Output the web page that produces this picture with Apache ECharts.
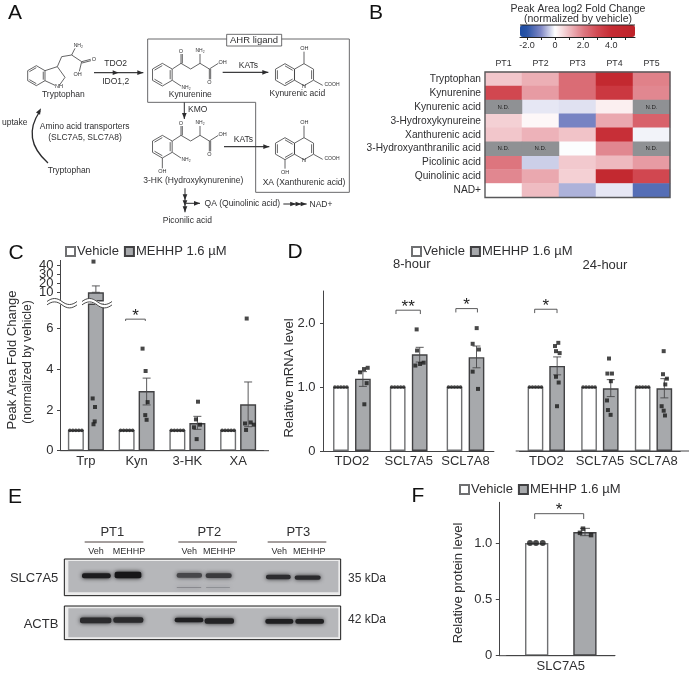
<!DOCTYPE html>
<html><head><meta charset="utf-8">
<style>html,body{margin:0;padding:0;background:#fff}#c{width:690px;height:675px}</style>
<script src="https://cdn.jsdelivr.net/npm/echarts@6/dist/echarts.min.js"></script>
</head><body><div id="c"></div>
<script>
// ---------- Shared names ----------
const VEH = 'Vehicle', MEH = 'MEHHP 1.6 µM';

// ---------- Panel B data ----------
const heatCols = ['PT1','PT2','PT3','PT4','PT5'];
const heatRows = ['Tryptophan','Kynurenine','Kynurenic acid','3-Hydroxykynureine','Xanthurenic acid','3-Hydroxyanthranilic acid','Picolinic acid','Quinolinic acid','NAD+'];
const ND = null;
const heatValues = [
  [0.85,1.2,2.3,4.6,1.9],
  [3.1,1.5,2.3,3.6,1.8],
  [ND,-0.2,-0.25,0.25,ND],
  [0.7,0.12,-1.1,1.3,2.5],
  [0.85,1.15,0.9,3.9,-0.1],
  [ND,ND,-0.02,1.8,ND],
  [2.1,-0.4,0.8,1.05,1.5],
  [1.8,1.3,0.7,4.6,3.1],
  [0,1,-0.65,-0.2,-1.5]
];
const scaleValues = [-2.5,-2,-1,0,1,2,3,4,5.7];
const scaleColors = ['#1d4ca2','#2a54a6','#8088c6','#ffffff','#efbcc2','#de7a83','#d24a53','#c62c34','#bd2329'];
const barTicks = [-2,-1,0,1,2,3,4,5];
const barLabels = [-2,0,2,4];

// ---------- Panel C data ----------
const cCats = ['Trp','Kyn','3-HK','XA'];
const cVehicle = [1,1,1,1];
const cMehhp = [10,2.93,1.36,2.28];
const cErrLow = [10,2.25,1.05,1.18];
const cErrHigh = [17,3.57,1.69,3.38];
const cPoints = [
  [0.650,43.7],[0.634,2.57],[0.680,2.15],[0.674,1.44],[0.650,1.3],
  [1.617,5.02],[1.677,3.92],[1.717,2.39],[1.670,1.75],[1.697,1.52],
  [2.709,2.41],[2.669,1.54],[2.749,1.28],[2.630,1.15],[2.683,0.57],
  [3.669,6.5],[3.636,1.34],[3.748,1.39],[3.808,1.28],[3.656,1.02]
];
const cBrackets = [[1.283,1.671,6.47,0.09,1]];
const cLowerMax = 7.2;
const cLowerTicks = [0,2,4,6];
const cUpperTicks = [10,20,30,40];

// ---------- Panel D data ----------
const dCats = ['TDO2','SCL7A5','SCL7A8'];
const d8Vehicle = [1,1,1];
const d8Mehhp = [1.13,1.51,1.466];
const d8ErrLow = [1.01,1.39,1.30];
const d8ErrHigh = [1.24,1.62,1.64];
const d8Points = [
  [0.643,1.23],[0.713,1.28],[0.778,1.30],[0.760,1.06],[0.719,0.73],
  [1.640,1.90],[1.647,1.57],[1.617,1.335],[1.700,1.36],[1.763,1.38],
  [2.697,1.92],[2.626,1.675],[2.737,1.586],[2.626,1.24],[2.720,0.97]
];
const d8Brackets = [[1.276,1.705,2.2,0.06,2],[2.33,2.71,2.225,0.06,1]];
const d24Vehicle = [1,1,1];
const d24Mehhp = [1.33,0.98,0.98];
const d24ErrLow = [1.19,0.85,0.83];
const d24ErrHigh = [1.47,1.115,1.13];
const d24Points = [
  [0.662,1.64],[0.724,1.69],[0.681,1.56],[0.749,1.53],[0.681,1.16],[0.731,1.07],[0.700,0.70],
  [1.670,1.445],[1.640,1.21],[1.725,1.21],[1.705,1.09],[1.633,0.79],[1.650,0.64],[1.700,0.565],
  [2.690,1.56],[2.677,1.20],[2.750,1.13],[2.720,1.04],[2.652,0.70],[2.690,0.63],[2.714,0.555]
];
const d24Brackets = [[0.283,0.70,2.215,0.06,1]];
const dTicks = [0,1,2];

// ---------- Panel F data ----------
const fCats = ['SLC7A5'];
const fVehicle = [1];
const fMehhp = [1.097];
const fErrLow = [1.065];
const fErrHigh = [1.13];
const fVehicleDots = [[0.216,1],[0.271,1],[0.333,1]];
const fPoints = [[0.705,1.127],[0.677,1.09],[0.779,1.07]];
const fBrackets = [[0.259,0.711,1.26,0.047,1]];
const fTicks = [0,0.5,1];

// ---------- Panel E blot bands ----------
const blotBands = [
  [246,332,287,15,'#1c1c1e'],[344,424,285,19,'#161618'],
  [530,606,286,14,'#47474a'],[617,695,287,14,'#3a3a3d'],
  [798,872,291,13,'#2c2c2f'],[884,962,293,13,'#2a2a2d'],
  [530,604,322,2,'#7d7e82'],[618,690,322,2,'#84858a'],
  [240,334,421,17,'#2b2b2d'],[340,430,420,17,'#2a2a2c'],
  [524,610,420,14,'#1f1f21'],[614,702,423,17,'#232325'],
  [796,880,424,14,'#1f1f21'],[886,972,424,14,'#202022']
];

// ---------- Style ----------
const FONT = '"Liberation Sans", Arial, sans-serif';
const INK = '#2f2f31';
const AXIS = '#444446';
const Z = 100;

// ---------- Colour ramp ----------
function hex2(c){return [1,3,5].map(i=>parseInt(c.substr(i,2),16));}
function rampColor(v){
  let i=0; while(i<scaleValues.length-2 && v>scaleValues[i+1]) i++;
  const t=Math.max(0,Math.min(1,(v-scaleValues[i])/(scaleValues[i+1]-scaleValues[i])));
  const a=hex2(scaleColors[i]),b=hex2(scaleColors[i+1]);
  return 'rgb('+a.map((x,k)=>Math.round(x+(b[k]-x)*t)).join(',')+')';
}
const ramp=[]; for(let k=0;k<=82;k++) ramp.push(rampColor(-2.5+k*0.1));

// ---------- Graphic helpers ----------
const T=(text,x,y,size,o={})=>({type:'text',z:Z,x,y,rotation:o.rot||0,silent:true,style:{text,fontSize:size,fontFamily:FONT,fill:o.fill||INK,align:o.align||'center',verticalAlign:'middle'}});
const L=(x1,y1,x2,y2,w=1,c=AXIS)=>({type:'line',z:Z,silent:true,shape:{x1,y1,x2,y2},style:{stroke:c,lineWidth:w}});
const A=v=>v/3;
const aL=(x1,y1,x2,y2,w=0.8)=>L(A(x1),A(y1),A(x2),A(y2),w,'#3d3d3f');
const aT=(s,x,y,size=8.5,o={})=>T(s,A(x),A(y),size,o);
const curve=(x1,y1,cx1,cy1,cx2,cy2,x2,y2,c,w)=>({type:'bezierCurve',z:Z,silent:true,shape:{x1,y1,x2,y2,cpx1:cx1,cpy1:cy1,cpx2:cx2,cpy2:cy2},style:{stroke:c,lineWidth:w,fill:'none'}});
function ring(cx,cy,r,edges){
  const pts=[];for(let i=0;i<6;i++){const a=(-90+60*i)*Math.PI/180;pts.push([cx+r*Math.cos(a),cy+r*Math.sin(a)]);}
  const out=[];
  for(let i=0;i<6;i++){const p=pts[i],q=pts[(i+1)%6];out.push(aL(p[0],p[1],q[0],q[1]));
    if(edges.includes(i)){const s=0.8,m=[p,q].map(u=>[cx+(u[0]-cx)*s,cy+(u[1]-cy)*s]);out.push(aL(m[0][0],m[0][1],m[1][0],m[1][1]));}}
  return out;
}
function dbl(x1,y1,x2,y2,dx,dy){return [aL(x1,y1,x2,y2),aL(x1+dx,y1+dy,x2+dx,y2+dy)];}
function head(x,y,ang,len=18,wid=14){
  const c=Math.cos(ang),s=Math.sin(ang),bx=x-len*c,by=y-len*s;
  return {type:'polygon',z:Z,silent:true,shape:{points:[[x,y],[bx-wid/2*s,by+wid/2*c],[bx+wid/2*s,by-wid/2*c]].map(p=>[A(p[0]),A(p[1])])},style:{fill:'#2b2b2d'}};
}
function arrow(x1,y1,x2,y2,fracs=[1]){
  const ang=Math.atan2(y2-y1,x2-x1);
  return [aL(x1,y1,x2,y2,1.1)].concat(fracs.map(f=>head(x1+(x2-x1)*f,y1+(y2-y1)*f,ang)));
}
function kynBackbone(oy){
  return [
    ...ring(487,224+oy,34,[1,3,5]),
    aL(517,207+oy,543,190+oy),...dbl(543,190+oy,543,162+oy,4,0),aL(543,190+oy,572,207+oy),aL(572,207+oy,600,190+oy),
    aL(600,190+oy,600,162+oy),aL(600,190+oy,628,207+oy),...dbl(628,207+oy,628,238+oy,4,0),aL(628,207+oy,655,190+oy),aL(517,241+oy,543,258+oy),
    aT('O',543,153+oy,5.5),aT('NH₂',600,153+oy,5),aT('OH',668,187+oy,5.5),aT('O',628,246+oy,5.5),aT('NH₂',558,262+oy,5)
  ];
}
function quinoline(oy){
  return [
    ...ring(855,224+oy,33,[0,2,4]),...ring(912,224+oy,33,[1]),
    aL(912,191+oy,912,155+oy),aL(941,241+oy,968,256+oy),
    aT('OH',913,145+oy,5.5),aT('COOH',996,255+oy,5),aT('N',912,258+oy,5.5)
  ];
}
const panelA=[
  ...ring(109,227,30,[1,3,5]),
  aL(135,212,172,200),aL(172,200,195,232),aL(195,232,178,256),aL(135,242,165,256),
  aL(172,200,185,170),aL(185,170,215,165),aL(215,165,245,185),...dbl(245,185,272,178,1,4),aL(245,185,238,214),aL(215,165,225,145),
  aT('NH₂',235,137,5),aT('O',282,178,5.5),aT('OH',233,224,5.5),aT('NH',177,258,5.5),
  aT('Tryptophan',190,284),
  ...arrow(282,218,430,218,[0.5,1]),aT('TDO2',347,190),aT('IDO1,2',347,245),
  {type:'polyline',z:Z,silent:true,shape:{points:[[443,117],[1048,117],[1048,577],[767,577],[767,307],[443,307],[443,117]].map(p=>[A(p[0]),A(p[1])])},style:{stroke:'#69696b',lineWidth:1,fill:'none'}},
  {type:'rect',z:Z,silent:true,shape:{x:A(680),y:A(103),width:A(165),height:A(35)},style:{fill:'#fff',stroke:'#4a4a4c',lineWidth:0.8}},
  {...aT('AHR ligand',762,121,9.5),z:Z+1},
  ...kynBackbone(0),aT('Kynurenine',571,284),
  ...arrow(668,217,805,217),aT('KATs',745,198),
  ...quinoline(0),aT('Kynurenic acid',892,282),
  ...arrow(553,307,553,357),aT('KMO',593,328),
  ...kynBackbone(216),aL(487,474,487,505),aT('OH',487,515,5.5),aT('3-HK (Hydroxykynurenine)',580,542),
  ...arrow(672,440,808,440),aT('KATs',730,420),
  ...quinoline(222),aL(855,479,855,506),aT('OH',855,516,5.5),aT('XA (Xanthurenic acid)',912,548),
  ...arrow(555,565,555,637,[0.5,0.75,1]),...arrow(555,610,600,610),
  aT('QA (Quinolinic acid)',727,612),...arrow(850,612,920,612,[0.55,0.78,1]),aT('NAD+',963,614),
  aT('Piconilic acid',562,662),
  curve(48,163,30,147,27,130,40,111,'#2b2b2d',1.3),
  head(123,325,-1.05),
  T('uptake',27.5,122.5,8.5,{align:'right'}),
  aT('Amino acid transporters',254,381),aT('(SLC7A5, SLC7A8)',255,413),aT('Tryptophan',207,511)
];

const E=v=>480+v/3;
const panelE=[
  {type:'rect',z:Z,silent:true,shape:{x:A(193),y:E(237),width:A(829),height:A(110)},style:{fill:'#ececec',stroke:'#1a1a1a',lineWidth:1}},
  {type:'rect',z:Z,silent:true,shape:{x:A(205),y:E(243),width:A(810),height:A(94)},style:{fill:'#b6b7ba'}},
  {type:'rect',z:Z,silent:true,shape:{x:A(193),y:E(378),width:A(829),height:A(101)},style:{fill:'#ececec',stroke:'#1a1a1a',lineWidth:1}},
  {type:'rect',z:Z,silent:true,shape:{x:A(205),y:E(385),width:A(810),height:A(87)},style:{fill:'#b6b7ba'}},
  ...blotBands.map(b=>({type:'rect',z:Z+1,silent:true,shape:{x:A(b[0]),y:E(b[2]-b[3]/2),width:A(b[1]-b[0]),height:A(b[3]),r:2},style:{fill:b[4],shadowBlur:4,shadowColor:b[4]}})),
  T('PT1',A(337),E(157),13),L(A(254),E(186),A(430),E(186),1,'#4a3f3c'),
  T('PT2',A(628),E(157),13),L(A(535),E(186),A(711),E(186),1,'#4a3f3c'),
  T('PT3',A(895),E(157),13),L(A(803),E(186),A(979),E(186),1,'#4a3f3c'),
  T('Veh',A(288),E(216),9),T('MEHHP',A(387),E(216),9),
  T('Veh',A(568),E(216),9),T('MEHHP',A(658),E(216),9),
  T('Veh',A(838),E(216),9),T('MEHHP',A(928),E(216),9),
  T('SLC7A5',A(175),E(295),13,{align:'right'}),T('ACTB',A(175),E(433),13,{align:'right'}),
  T('35 kDa',A(1044),E(295),12,{align:'left'}),T('42 kDa',A(1044),E(420),12,{align:'left'})
];

function wave(x0,x1,y,c,w){
  const m=(x0+x1)/2,q=(x1-x0)/4;
  return [curve(x0,y,x0+q*0.7,y-4,m-q*0.7,y-4,m,y,c,w),curve(m,y,m+q*0.7,y+4,x1-q*0.7,y+4,x1,y,c,w)];
}
const breakMarks=[[47,77],[82,112]].flatMap(s=>[...wave(s[0],s[1],303.2,'#fff',4),...wave(s[0],s[1],301.5,'#333',0.9),...wave(s[0],s[1],304.9,'#333',0.9)]);

const panelLabels=[['A',15,13],['B',376,13],['C',16,253],['D',295,252],['E',15,497],['F',418,496]];

const otherText=[
  ...panelLabels.map(p=>T(p[0],p[1],p[2],21,{fill:'#111'})),
  T('Peak Area log2 Fold Change',578,9,10.5),
  T('(normalized by vehicle)',578,19,10.5),
  T('Peak Area Fold Change',12,360,13,{rot:Math.PI/2}),
  T('(normalized by vehicle)',28,362,12,{rot:Math.PI/2}),
  T('Relative mRNA level',289,378,13,{rot:Math.PI/2}),
  T('Relative protein level',458,583,13,{rot:Math.PI/2}),
  T('8-hour',411.7,264,13),
  T('24-hour',605,265.7,13),
  {type:'rect',z:Z,silent:true,shape:{x:485,y:72,width:185,height:125.5},style:{fill:'none',stroke:'#58585a',lineWidth:1.4}},
  L(520,25,635,25,1,'#222'),
  L(60.5,450.7,269,450.7),
  L(515.7,451,689,451),
  L(499.3,655.7,615,655.7)
];

// ---------- Series helpers ----------
function errorSeries(xi,yi,data,halfCap){
  return {type:'custom',coordinateSystem:'cartesian2d',xAxisIndex:xi,yAxisIndex:yi,silent:true,z:3,data,
    encode:{x:0,y:[1,2]},
    renderItem(p,api){
      const x=api.value(0),a=api.coord([x,api.value(1)]),b=api.coord([x,api.value(2)]);
      const st={stroke:'#47474a',lineWidth:0.9};
      return {type:'group',children:[
        {type:'line',shape:{x1:a[0],y1:a[1],x2:b[0],y2:b[1]},style:st},
        {type:'line',shape:{x1:a[0]-halfCap,y1:a[1],x2:a[0]+halfCap,y2:a[1]},style:st},
        {type:'line',shape:{x1:b[0]-halfCap,y1:b[1],x2:b[0]+halfCap,y2:b[1]},style:st}
      ]};
    }};
}
function bracketSeries(xi,yi,data){
  return {type:'custom',coordinateSystem:'cartesian2d',xAxisIndex:xi,yAxisIndex:yi,silent:true,z:5,data,
    encode:{x:[0,1],y:[2,3]},
    renderItem(p,api){
      const a=api.coord([api.value(0),api.value(2)]),b=api.coord([api.value(1),api.value(2)]);
      const d=api.size([0,api.value(3)])[1];
      const st={stroke:'#47474a',lineWidth:0.9};
      return {type:'group',children:[
        {type:'polyline',shape:{points:[[a[0],a[1]+d],a,b,[b[0],b[1]+d]]},style:{...st,fill:'none'}},
        {type:'text',x:(a[0]+b[0])/2,y:a[1]-3,style:{text:'*'.repeat(api.value(4)),fontSize:17,fontFamily:FONT,fill:'#222',align:'center',verticalAlign:'middle'}}
      ]};
    }};
}
function barSeries(name,xi,yi,data,w,gapPct){
  const isVeh=name===VEH;
  return {type:'bar',name,xAxisIndex:xi,yAxisIndex:yi,data,barWidth:w,barGap:gapPct,silent:true,z:2,
    itemStyle:{color:isVeh?'#fff':'#a7a9ac',borderColor:isVeh?'#6f7072':'#414143',borderWidth:1.4}};
}
function dotSeries(xi,yi,data,symbol,size){
  return {type:'scatter',xAxisIndex:xi,yAxisIndex:yi,data,symbol,symbolSize:size,silent:true,z:4,itemStyle:{color:'#1a1a1a'}};
}
function vehicleDots(values,offset,stepUnits){
  const out=[];
  values.forEach((v,i)=>{for(let k=-2;k<=2;k++) out.push([i+0.5-offset+k*stepUnits,v]);});
  return out;
}
const err=(lo,hi,off)=>lo.map((v,i)=>[i+0.5+off,v,hi[i]]);
function catAxis(gridIndex,data,show=true){
  return {type:'category',gridIndex,data,show,position:'bottom',
    axisLine:{show:true,lineStyle:{color:AXIS,width:1}},axisTick:{show:false},
    axisLabel:{color:INK,fontSize:13,fontFamily:FONT,margin:4,interval:0}};
}
const valX=(gridIndex,max)=>({type:'value',gridIndex,show:false,min:0,max});
function valY(gridIndex,min,max,ticks,fmt,margin,extra={}){
  return {type:'value',gridIndex,min,max,position:'left',splitLine:{show:false},
    axisLine:{show:true,onZero:false,lineStyle:{color:AXIS,width:1}},
    axisTick:{show:true,length:3.5,customValues:ticks,lineStyle:{color:AXIS}},
    axisLabel:{customValues:ticks,formatter:fmt,color:INK,fontSize:13,fontFamily:FONT,margin,showMinLabel:true,showMaxLabel:true,hideOverlap:false},...extra};
}
const oneDec=v=>v===0?'0':v.toFixed(1);
const legendAt=(left,top)=>({left,top,orient:'horizontal',padding:0,itemWidth:9,itemHeight:9,itemGap:5,icon:'rect',selectedMode:false,
  data:[VEH,MEH],textStyle:{fontSize:13,fontFamily:FONT,color:INK,padding:[0,0,0,-3]}});

// Upper break segment: its tick labels stand closer than their own height, as in the
// reference, so each label is drawn by its own overlaid axis and none is dropped.
const upperLabelAxes=cUpperTicks.map(t=>{
  const a=valY(2,0,45,[t],v=>String(v),7);
  a.axisLine={show:false}; a.axisTick={show:false};
  return a;
});

// Bar pair geometry
const cOff=(16+4)/2/50.7, d8Off=(15.7+6.3)/2/56.8, d24Off=(15.7+6)/2/53.6;

const heatData=[],ndData=[];
heatValues.forEach((row,y)=>row.forEach((v,x)=>{(v===ND?ndData:heatData).push([x,y,v===ND?0:v]);}));

const upperMain=valY(2,0,45,cUpperTicks,v=>String(v),7);
upperMain.axisLabel={show:false};

const option={
  animation:false,backgroundColor:'#fff',
  textStyle:{fontFamily:FONT},
  grid:[
    {left:485,top:72,width:185,height:125.5,containLabel:false},
    {left:520,top:25,width:115,height:12},
    {left:60.5,top:260.4,width:203,height:41},
    {left:60.5,top:304.3,width:203,height:146.4},
    {left:323.5,top:291,width:170.4,height:160},
    {left:519.5,top:291,width:160.8,height:160},
    {left:506.6,top:502.3,width:108.4,height:153.4}
  ],
  xAxis:[
    {type:'category',gridIndex:0,data:heatCols,position:'top',axisLine:{show:false},axisTick:{show:false},axisLabel:{color:INK,fontSize:8.8,fontFamily:FONT,margin:4}},
    {type:'value',gridIndex:1,min:-2.5,max:5.7,position:'bottom',splitLine:{show:false},
      axisLine:{show:true,lineStyle:{color:'#222',width:1}},
      axisTick:{show:true,length:3,customValues:barTicks,lineStyle:{color:'#222'}},
      axisLabel:{customValues:barLabels,formatter:oneDec,color:INK,fontSize:9,fontFamily:FONT,margin:4}},
    catAxis(2,cCats,false),valX(2,4),
    catAxis(3,cCats),valX(3,4),
    catAxis(4,dCats),valX(4,3),
    catAxis(5,dCats),valX(5,3),
    catAxis(6,fCats),valX(6,1)
  ],
  yAxis:[
    {type:'category',gridIndex:0,data:heatRows,inverse:true,axisLine:{show:false},axisTick:{show:false},axisLabel:{color:INK,fontSize:10.2,fontFamily:FONT,margin:4,interval:0}},
    {type:'value',gridIndex:1,show:false,min:0,max:1},
    upperMain,
    valY(3,0,cLowerMax,cLowerTicks,v=>String(v),7),
    valY(4,0,2.5,dTicks,oneDec,8),
    {...valY(5,0,2.5,dTicks,oneDec,8),show:false},
    valY(6,0,1.361,fTicks,oneDec,7,{offset:7.3}),
    ...upperLabelAxes
  ],
  visualMap:[{type:'continuous',seriesIndex:0,min:-2.5,max:5.7,orient:'horizontal',left:520,top:25,itemWidth:12,itemHeight:115,padding:0,
    calculable:false,showLabel:false,text:null,hoverLink:false,inRange:{color:ramp}}],
  legend:[legendAt(65,245),legendAt(411,245),legendAt(459,483)],
  graphic:{elements:[...panelA,...panelE,...breakMarks,...otherText]},
  series:[
    {type:'heatmap',xAxisIndex:0,yAxisIndex:0,data:heatData,silent:true},
    {type:'heatmap',xAxisIndex:0,yAxisIndex:0,data:ndData,silent:true,itemStyle:{color:'#8f9194'},
      label:{show:true,formatter:'N.D.',fontSize:6,fontFamily:FONT,color:'#222'}},

    // C upper segment
    barSeries(VEH,2,2,cVehicle.map(()=>null),16,'25%'),
    barSeries(MEH,2,2,cMehhp.map(v=>v>cLowerMax?v:null),16,'25%'),
    errorSeries(3,2,err(cErrLow,cErrHigh,cOff).filter(e=>e[2]>cLowerMax),4),
    dotSeries(3,2,cPoints.filter(p=>p[1]>cLowerMax),'rect',4),
    // C lower segment
    barSeries(VEH,4,3,cVehicle,16,'25%'),
    barSeries(MEH,4,3,cMehhp,16,'25%'),
    errorSeries(5,3,err(cErrLow,cErrHigh,cOff).filter(e=>e[2]<=cLowerMax),4),
    dotSeries(5,3,vehicleDots(cVehicle,cOff,3/50.7),'circle',3.6),
    dotSeries(5,3,cPoints.filter(p=>p[1]<=cLowerMax),'rect',4),
    bracketSeries(5,3,cBrackets),
    // D 8-hour
    barSeries(VEH,6,4,d8Vehicle,15.7,'40%'),
    barSeries(MEH,6,4,d8Mehhp,15.7,'40%'),
    errorSeries(7,4,err(d8ErrLow,d8ErrHigh,d8Off),4),
    dotSeries(7,4,vehicleDots(d8Vehicle,d8Off,3/56.8),'circle',3.6),
    dotSeries(7,4,d8Points,'rect',4),
    bracketSeries(7,4,d8Brackets),
    // D 24-hour
    barSeries(VEH,8,5,d24Vehicle,15.7,'38%'),
    barSeries(MEH,8,5,d24Mehhp,15.7,'38%'),
    errorSeries(9,5,err(d24ErrLow,d24ErrHigh,d24Off),4),
    dotSeries(9,5,vehicleDots(d24Vehicle,d24Off,3/53.6),'circle',3.6),
    dotSeries(9,5,d24Points,'rect',4),
    bracketSeries(9,5,d24Brackets),
    // F
    barSeries(VEH,10,6,fVehicle,23.3,'107%'),
    barSeries(MEH,10,6,fMehhp,23.3,'107%'),
    errorSeries(11,6,fErrLow.map((v,i)=>[0.723,v,fErrHigh[i]]),5),
    dotSeries(11,6,fVehicleDots,'circle',6),
    dotSeries(11,6,fPoints,'rect',4.5),
    bracketSeries(11,6,fBrackets)
  ]
};
echarts.init(document.getElementById('c'),null,{renderer:'canvas'}).setOption(option);
</script>
</body></html>
